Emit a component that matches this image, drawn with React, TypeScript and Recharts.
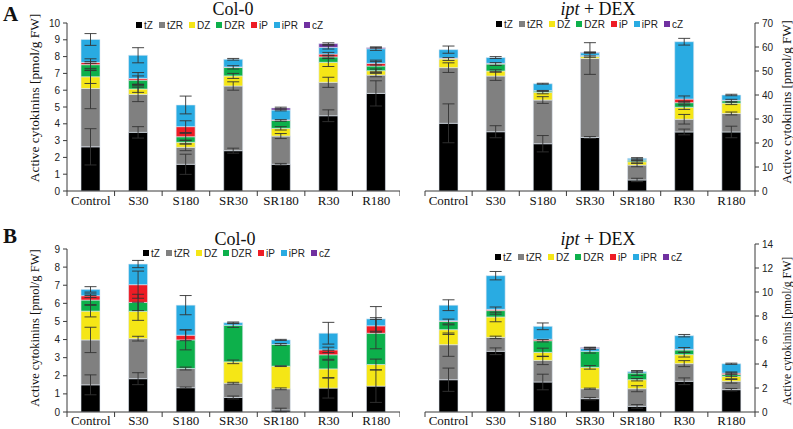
import React from 'react';
import { BarChart, Bar, XAxis, YAxis, ErrorBar, Legend } from 'recharts';

const categories = ['Control', 'S30', 'S180', 'SR30', 'SR180', 'R30', 'R180'];
const compounds = ['tZ', 'tZR', 'DZ', 'DZR', 'iP', 'iPR', 'cZ'];
const compoundColors = ['#000000', '#808080', '#f5e616', '#0db04b', '#ee1c25', '#29abe2', '#7030a0'];

// Rows follow `compounds` (tZ, tZR, DZ, DZR, iP, iPR, cZ); columns follow `categories`.
// Panel A, Col-0
const aColVals = [
  [2.63, 3.49, 1.59, 2.4, 1.59, 4.48, 5.81],
  [3.47, 2.26, 1.01, 3.85, 1.68, 1.99, 1.09],
  [0.7, 0.32, 0.3, 0.6, 0.46, 1.19, 0.26],
  [0.72, 0.53, 0.33, 0.51, 0.47, 0.32, 0.28],
  [0.13, 0.1, 0.6, 0.02, 0.03, 0.17, 0.16],
  [1.37, 1.38, 1.29, 0.46, 0.59, 0.4, 0.87],
  [0, 0, 0, 0, 0.12, 0.22, 0.06],
];
const aColErrs = [
  [1.08, 0.34, 0.6, 0.15, 0.05, 0.35, 0.75],
  [1.2, 0.43, 0.2, 0.25, 0.15, 0.3, 0.1],
  [0.4, 0.2, 0.1, 0.15, 0.1, 0.25, 0.1],
  [0.35, 0.25, 0.2, 0.1, 0.05, 0.1, 0.35],
  [0.05, 0.35, 0.35, 0, 0, 0.1, 0.1],
  [0.35, 0.45, 0.53, 0.05, 0.05, 0.1, 0.1],
  [0, 0, 0, 0, 0.05, 0.05, 0.03],
];
// Panel A, ipt + DEX
const aIptVals = [
  [28.2, 24.7, 19.7, 22.3, 4.6, 24.6, 24.6],
  [23.2, 23.2, 18.2, 32.9, 6.2, 5.3, 7.7],
  [3.6, 2.1, 3.2, 0.8, 1.4, 5.0, 4.3],
  [0.2, 2.9, 0.6, 0.3, 0.7, 1.9, 1.0],
  [0.2, 0.3, 0.1, 0.1, 0.1, 1.5, 0.2],
  [3.5, 2.4, 2.9, 1.2, 0.6, 23.9, 2.2],
  [0, 0, 0, 0.2, 0, 0, 0],
];
const aIptErrs = [
  [8.1, 2.5, 3.4, 0.4, 0.7, 1.2, 2.4],
  [2.0, 1.8, 1.4, 6.6, 0.7, 2.0, 0.6],
  [0.6, 0.5, 0.6, 0.3, 0.5, 0.9, 0.6],
  [0, 0.6, 0.2, 0, 0.4, 0.6, 0.6],
  [0, 0, 0, 0, 0, 1.3, 0],
  [1.5, 0.4, 0.2, 0.2, 0.3, 1.4, 0.3],
  [0, 0, 0, 0.1, 0, 0, 0],
];
// Panel B, Col-0
const bColVals = [
  [1.5, 1.84, 1.34, 0.8, 0.11, 1.32, 1.43],
  [2.48, 2.21, 1.06, 0.79, 1.17, 0, 0],
  [1.59, 1.51, 0, 1.18, 1.25, 1.06, 1.19],
  [0.61, 0.49, 1.58, 2.02, 1.2, 0.78, 1.73],
  [0.24, 0.98, 0.26, 0, 0, 0.27, 0.41],
  [0.35, 1.14, 1.66, 0.14, 0.25, 0.92, 0.38],
  [0, 0, 0, 0, 0, 0, 0],
];
const bColErrs = [
  [0.55, 0.33, 0.04, 0.08, 0.1, 0.55, 0.9],
  [0.7, 0.13, 0.08, 0.05, 0.05, 0, 0],
  [0.32, 0.5, 0, 0.1, 0.02, 0.48, 0.3],
  [0.25, 0.45, 0.55, 0.12, 0.05, 0.25, 0.86],
  [0.1, 0.75, 0.3, 0, 0, 0.15, 0.35],
  [0.15, 0.2, 0.53, 0.04, 0.03, 0.6, 0.68],
  [0, 0, 0, 0, 0, 0, 0],
];
// Panel B, ipt + DEX
const bIptVals = [
  [2.69, 5.06, 2.5, 1.11, 0.47, 2.56, 1.86],
  [2.92, 1.16, 1.8, 0.83, 1.47, 1.47, 0.7],
  [1.25, 1.7, 0.67, 1.78, 0.75, 0.75, 0.41],
  [0.68, 0.53, 0.97, 1.34, 0.56, 0.39, 0.15],
  [0.06, 0.1, 0.12, 0, 0, 0.05, 0.12],
  [1.3, 2.81, 1.08, 0.24, 0.11, 1.14, 0.78],
  [0, 0, 0, 0.08, 0, 0, 0],
];
const bIptErrs = [
  [0.97, 0.28, 0.65, 0.1, 0.15, 0.28, 0.1],
  [0.97, 0.1, 0.35, 0.05, 0.25, 0.25, 0.15],
  [0.4, 0.4, 0.35, 0.15, 0.1, 0.2, 0.2],
  [0.2, 0.3, 0.1, 0.15, 0.2, 0.2, 0.15],
  [0, 0, 0, 0, 0, 0, 0.1],
  [0.45, 0.35, 0.28, 0.05, 0.05, 0.1, 0.05],
  [0, 0, 0, 0.02, 0, 0, 0],
];

const ticksA1 = [0, 1, 2, 3, 4, 5, 6, 7, 8, 9, 10];
const ticksA2 = [0, 10, 20, 30, 40, 50, 60, 70];
const ticksB1 = [0, 1, 2, 3, 4, 5, 6, 7, 8, 9];
const ticksB2 = [0, 2, 4, 6, 8, 10, 12, 14];

const AXIS = '#3a3a3a';
const SERIF = '"Liberation Serif", "Times New Roman", serif';
const SANS = '"Liberation Sans", Arial, sans-serif';

const buildRows = (vals: number[][], errs: number[][]) =>
  categories.map((name, i) => {
    const row: any = { name };
    compounds.forEach((c, k) => {
      row[c] = vals[k][i];
      row[c + '_err'] = errs[k][i];
    });
    return row;
  });

const CategoryTick = (props: any) => {
  const { x, y, payload, index, step, dy } = props;
  const last = index === categories.length - 1;
  return (
    <g>
      <line x1={x - step / 2} x2={x - step / 2} y1={y} y2={y + 5} stroke={AXIS} strokeWidth={1} />
      {last && <line x1={x + step / 2} x2={x + step / 2} y1={y} y2={y + 5} stroke={AXIS} strokeWidth={1} />}
      <text x={x} y={y + dy} textAnchor="middle" fontFamily={SERIF} fontSize={13} fill="#111">
        {payload.value}
      </text>
    </g>
  );
};

const LegendContent = () => (
  <div style={{ display: 'flex', alignItems: 'center', fontFamily: SANS, fontSize: 10, color: '#222', whiteSpace: 'nowrap', lineHeight: '11px' }}>
    {compounds.map((c, k) => (
      <span key={c} style={{ display: 'flex', alignItems: 'center', marginRight: k < compounds.length - 1 ? 6 : 0 }}>
        <span style={{ display: 'inline-block', width: 6, height: 6, background: compoundColors[k], marginRight: 2 }} />
        {c}
      </span>
    ))}
  </div>
);

type PanelProps = {
  vals: number[][];
  errs: number[][];
  left: number;
  top: number;
  width: number;
  height: number;
  margin: { top: number; right: number; bottom: number; left: number };
  orientation: 'left' | 'right';
  yWidth: number;
  xHeight: number;
  maxY: number;
  ticks: number[];
  legendLeft: number;
  legendTop: number;
  labelDy: number;
};

const Panel = (p: PanelProps) => {
  const rows = buildRows(p.vals, p.errs);
  const plotW = p.width - p.margin.left - p.margin.right - p.yWidth;
  const step = plotW / categories.length;
  const axes = (visible: boolean) => [
    <XAxis
      key="x"
      dataKey="name"
      height={p.xHeight}
      interval={0}
      tickSize={0}
      tickMargin={0}
      tickLine={false}
      axisLine={visible ? { stroke: AXIS, strokeWidth: 1 } : false}
      tick={visible ? <CategoryTick step={step} dy={p.labelDy} /> : false}
    />,
    <YAxis
      key="y"
      orientation={p.orientation}
      width={p.yWidth}
      domain={[0, p.maxY]}
      ticks={p.ticks}
      allowDataOverflow
      interval={0}
      tickSize={4}
      tickMargin={3}
      axisLine={visible ? { stroke: AXIS, strokeWidth: 1 } : false}
      tickLine={visible ? { stroke: AXIS, strokeWidth: 1 } : false}
      tick={visible ? { fontSize: 10, fill: '#222', fontFamily: SANS } : false}
    />,
  ];
  return (
    <>
      <div style={{ position: 'absolute', left: p.left, top: p.top, width: p.width, height: p.height }}>
        <BarChart width={p.width} height={p.height} data={rows} margin={p.margin} barSize={19}>
          {axes(true)}
          <Legend
            verticalAlign="middle"
            align="center"
            layout="horizontal"
            content={() => <LegendContent />}
            wrapperStyle={{ left: p.legendLeft, top: p.legendTop, width: 'auto', height: 'auto' }}
          />
          {compounds.map((c, k) => (
            <Bar key={c} dataKey={c} stackId="s" fill={compoundColors[k]} stroke="#dfe8f1" strokeWidth={0.6} isAnimationActive={false} />
          ))}
        </BarChart>
      </div>
      <div style={{ position: 'absolute', left: p.left, top: p.top, width: p.width, height: p.height }}>
        <BarChart width={p.width} height={p.height} data={rows} margin={p.margin} barSize={19}>
          {axes(false)}
          {compounds.map((c) => (
            <Bar key={c} dataKey={c} stackId="s" fill="transparent" stroke="none" isAnimationActive={false}>
              <ErrorBar dataKey={c + '_err'} width={6} stroke="#333" strokeWidth={0.9} direction="y" isAnimationActive={false} />
            </Bar>
          ))}
        </BarChart>
      </div>
    </>
  );
};

const yLabelText = 'Active cytokinins [pmol/g FW]';

const YLabel = ({ x, y, size }: { x: number; y: number; size: number }) => (
  <text x={x} y={y} transform={`rotate(-90 ${x} ${y})`} textAnchor="middle" dominantBaseline="central" fontFamily={SERIF} fontSize={size} fill="#111">
    {yLabelText}
  </text>
);

const Title = ({ x, y, ipt }: { x: number; y: number; ipt: boolean }) => (
  <text x={x} y={y} textAnchor="middle" fontFamily={SERIF} fontSize={18} fill="#111">
    {ipt ? (
      <>
        <tspan fontStyle="italic">ipt</tspan>
        <tspan> + DEX</tspan>
      </>
    ) : (
      'Col-0'
    )}
  </text>
);

export default function App() {
  return (
    <div style={{ position: 'absolute', left: 0, top: 0, width: 793, height: 429, background: '#fff', overflow: 'hidden' }}>
      <Panel
        vals={aColVals} errs={aColErrs}
        left={0} top={0} width={400} height={212}
        margin={{ top: 23, right: 0, bottom: 0, left: 0 }}
        orientation="left" yWidth={67} xHeight={21}
        maxY={10} ticks={ticksA1}
        legendLeft={136} legendTop={19.5} labelDy={14}
      />
      <Panel
        vals={aIptVals} errs={aIptErrs}
        left={400} top={0} width={393} height={212}
        margin={{ top: 23, right: 0, bottom: 0, left: 25 }}
        orientation="right" yWidth={38} xHeight={21}
        maxY={70} ticks={ticksA2}
        legendLeft={96} legendTop={18.5} labelDy={14}
      />
      <Panel
        vals={bColVals} errs={bColErrs}
        left={0} top={212} width={400} height={217}
        margin={{ top: 37, right: 0, bottom: 0, left: 0 }}
        orientation="left" yWidth={67} xHeight={17}
        maxY={9} ticks={ticksB1}
        legendLeft={143} legendTop={35.5} labelDy={13}
      />
      <Panel
        vals={bIptVals} errs={bIptErrs}
        left={400} top={212} width={393} height={217}
        margin={{ top: 32, right: 0, bottom: 0, left: 25 }}
        orientation="right" yWidth={38} xHeight={17}
        maxY={14} ticks={ticksB2}
        legendLeft={95} legendTop={39.5} labelDy={13}
      />
      <svg width={793} height={429} style={{ position: 'absolute', left: 0, top: 0, pointerEvents: 'none' }}>
        <text x={3} y={21} fontFamily={SERIF} fontWeight="bold" fontSize={21} fill="#111">A</text>
        <text x={3} y={243} fontFamily={SERIF} fontWeight="bold" fontSize={21} fill="#111">B</text>
        <Title x={233} y={15} ipt={false} />
        <Title x={598} y={15} ipt={true} />
        <Title x={235} y={245} ipt={false} />
        <Title x={598} y={245} ipt={true} />
        <YLabel x={34} y={98} size={13.4} />
        <YLabel x={786} y={102} size={13} />
        <YLabel x={35} y={328} size={12.5} />
        <YLabel x={787} y={331} size={11.8} />
      </svg>
    </div>
  );
}
